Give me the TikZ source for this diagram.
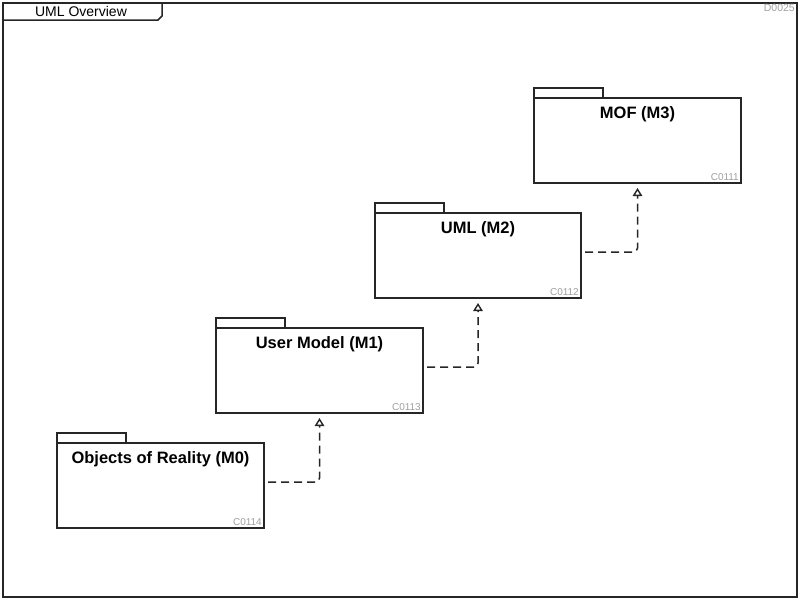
\documentclass[tikz,border=0pt]{standalone}
\usepackage{fontspec}
\setmainfont{Liberation Sans}
\usetikzlibrary{arrows.meta,calc}
\definecolor{idgray}{HTML}{A0A0A0}
\definecolor{ink}{HTML}{262626}
\tikzset{
  frame/.style={draw=ink, line width=1.5pt},
  pkg/.style={draw=ink, line width=1.5pt, fill=white, anchor=north west, inner sep=0pt, outer sep=0pt, minimum width=207pt, minimum height=85pt},
  tab/.style={draw=ink, line width=1.5pt},
  ptitle/.style={font=\fontsize{16.5}{19}\selectfont\bfseries, inner sep=0pt},
  pid/.style={font=\fontsize{10}{12}\selectfont, text=idgray, inner sep=0pt, anchor=south east},
  dep/.style={draw=ink, line width=1.5pt, dash pattern=on 8pt off 5pt, rounded corners=4pt, -{Triangle[open, length=8pt, width=9.5pt, line width=1.4pt]}}
}
\begin{document}
\begin{tikzpicture}[x=1pt,y=-1pt]
\useasboundingbox (0,0) rectangle (800,600);
% frame
\draw[frame] (3,3) rectangle (797,597);
\draw[frame] (3,20) -- (158,20) -- (162,16) -- (162,3);
\node[font=\fontsize{14}{16}\selectfont, inner sep=0pt] (ttl) at (81,11.5) {UML Overview};
\node[font=\fontsize{10.5}{12}\selectfont, text=idgray, inner sep=0pt, anchor=north east] (did) at (795,3.5) {D0025};
% packages
\draw[tab] (534,88) rectangle (603,98);
\node[pkg] (mof) at (534,98) {};
\node[ptitle] (mofT) at ($(mof.north)+(0,16.5)$) {MOF (M3)};
\node[pid] (mofI) at ($(mof.south east)+(-2,-2)$) {C0111};

\draw[tab] (375,203) rectangle (444,213);
\node[pkg, minimum width=206pt] (uml) at (375,213) {};
\node[ptitle] (umlT) at ($(uml.north)+(0,16.5)$) {UML (M2)};
\node[pid] (umlI) at ($(uml.south east)+(-2,-2)$) {C0112};

\draw[tab] (216,318) rectangle (285,328);
\node[pkg] (usr) at (216,328) {};
\node[ptitle] (usrT) at ($(usr.north)+(0,16.5)$) {User Model (M1)};
\node[pid] (usrI) at ($(usr.south east)+(-2,-2)$) {C0113};

\draw[tab] (57,433) rectangle (126,443);
\node[pkg] (obj) at (57,443) {};
\node[ptitle] (objT) at ($(obj.north)+(0,16.5)$) {Objects of Reality (M0)};
\node[pid] (objI) at ($(obj.south east)+(-2,-2)$) {C0114};
% dependencies
\draw[dep] ([xshift=4pt,yshift=3.5pt]obj.east) -| ([yshift=-5pt]usr.south);
\draw[dep] ([xshift=4pt,yshift=3.5pt]usr.east) -| ([yshift=-5pt]uml.south);
\draw[dep] ([xshift=4pt,yshift=3.5pt]uml.east) -| ([yshift=-5pt]mof.south);
\end{tikzpicture}
\end{document}
